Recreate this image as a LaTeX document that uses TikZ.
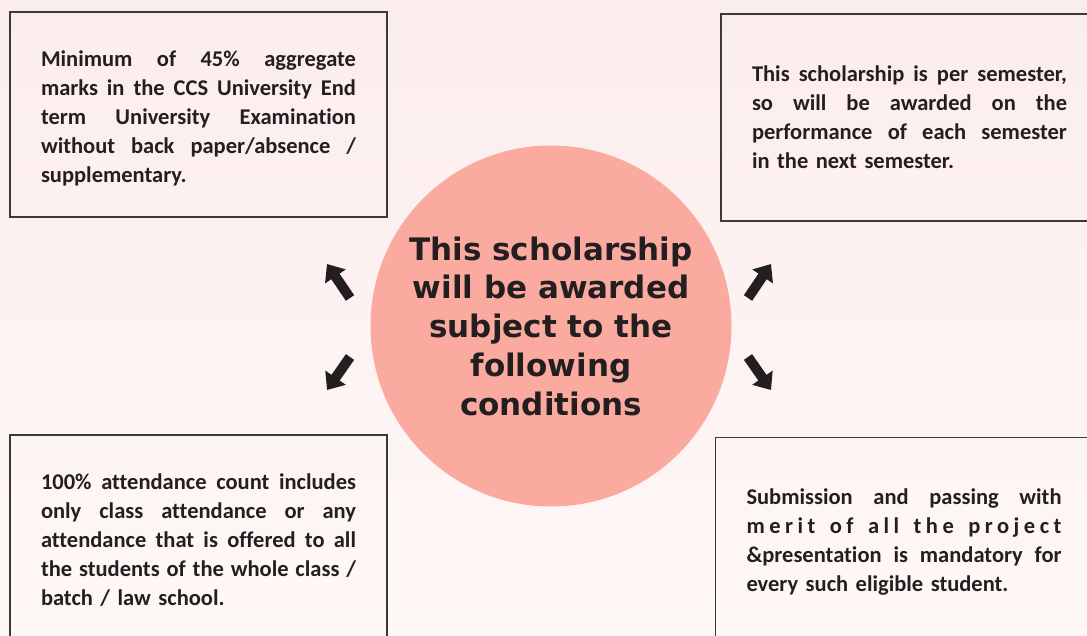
\documentclass[tikz,border=0pt]{standalone}
\usepackage{fontspec}
\setmainfont{Carlito}[Ligatures=NoCommon]
\newfontfamily\centerfont{DejaVu Sans}
\usetikzlibrary{arrows.meta}
\definecolor{ink}{HTML}{231F20}
\definecolor{circ}{HTML}{FBAAA0}
\definecolor{bgtop}{HTML}{FCEDED}
\definecolor{bgbot}{HTML}{FEF8F6}
\definecolor{frame}{HTML}{3A3A3A}
\newcommand\jl[1]{{\spaceskip=0pt\xspaceskip=0pt\makebox[315pt][s]{#1}}}
\begin{document}
\begin{tikzpicture}[x=1pt,y=-1pt,
  cbox/.style={draw=frame, line width=1.6pt, inner sep=0pt, text=ink,
    text width=315pt, align=left, minimum width=377pt,
    font=\bfseries\fontsize{22.5}{29}\selectfont},
  blockarrow/.style={draw=ink, line width=10pt, -{Triangle[width=24pt,length=15pt]}},
]
\useasboundingbox (0,0) rectangle (1087,635);
\clip (0,0) rectangle (1087,635);
\shade[top color=bgtop, bottom color=bgbot] (0,0) rectangle (1087,635);

\node[cbox, minimum height=205pt, text depth=0pt] (tl) at (198.5,114.5) {};
\node[inner sep=0pt, text=ink, text width=315pt, align=left,
  font=\bfseries\fontsize{22.5}{29}\selectfont] (tlt) at (198.5,118)
 {\jl{Minimum of 45\% aggregate}\\
  \jl{marks in the CCS University End}\\
  \jl{term University Examination}\\
  \jl{without back paper/absence /}\\
  supplementary.};

\node[cbox, minimum height=207pt] (tr) at (909.5,117.5)
 {\jl{This scholarship is per semester,}\\
  \jl{so will be awarded on the}\\
  \jl{performance of each semester}\\
  in the next semester.};

\node[cbox, minimum height=210pt] (bl) at (198.5,540)
 {\jl{100\% attendance count includes}\\
  \jl{only class attendance or any}\\
  \jl{attendance that is offered to all}\\
  \jl{the students of the whole class /}\\
  batch / law school.};

\node[cbox, minimum height=210pt] (br) at (904,542.5)
 {\jl{Submission and passing with}\\
  \jl{\addfontfeature{LetterSpace=20}merit of all the project}\\
  \jl{\&presentation is mandatory for}\\
  every such eligible student.};

\node[circle, fill=circ, minimum size=361pt, inner sep=0pt, text=ink, align=center,
  font=\centerfont\bfseries\fontsize{31}{38.75}\selectfont] (c) at (551,326)
 {This scholarship\\will be awarded\\subject to the\\following\\conditions};

\coordinate (a1s) at (350,298); \coordinate (a1e) at (327,264);
\coordinate (a2s) at (350,357); \coordinate (a2e) at (327,390);
\coordinate (a3s) at (748,298); \coordinate (a3e) at (771,264);
\coordinate (a4s) at (748,357); \coordinate (a4e) at (771,390);
\draw[blockarrow] (a1s) -- (a1e);
\draw[blockarrow] (a2s) -- (a2e);
\draw[blockarrow] (a3s) -- (a3e);
\draw[blockarrow] (a4s) -- (a4e);
\end{tikzpicture}
\end{document}
